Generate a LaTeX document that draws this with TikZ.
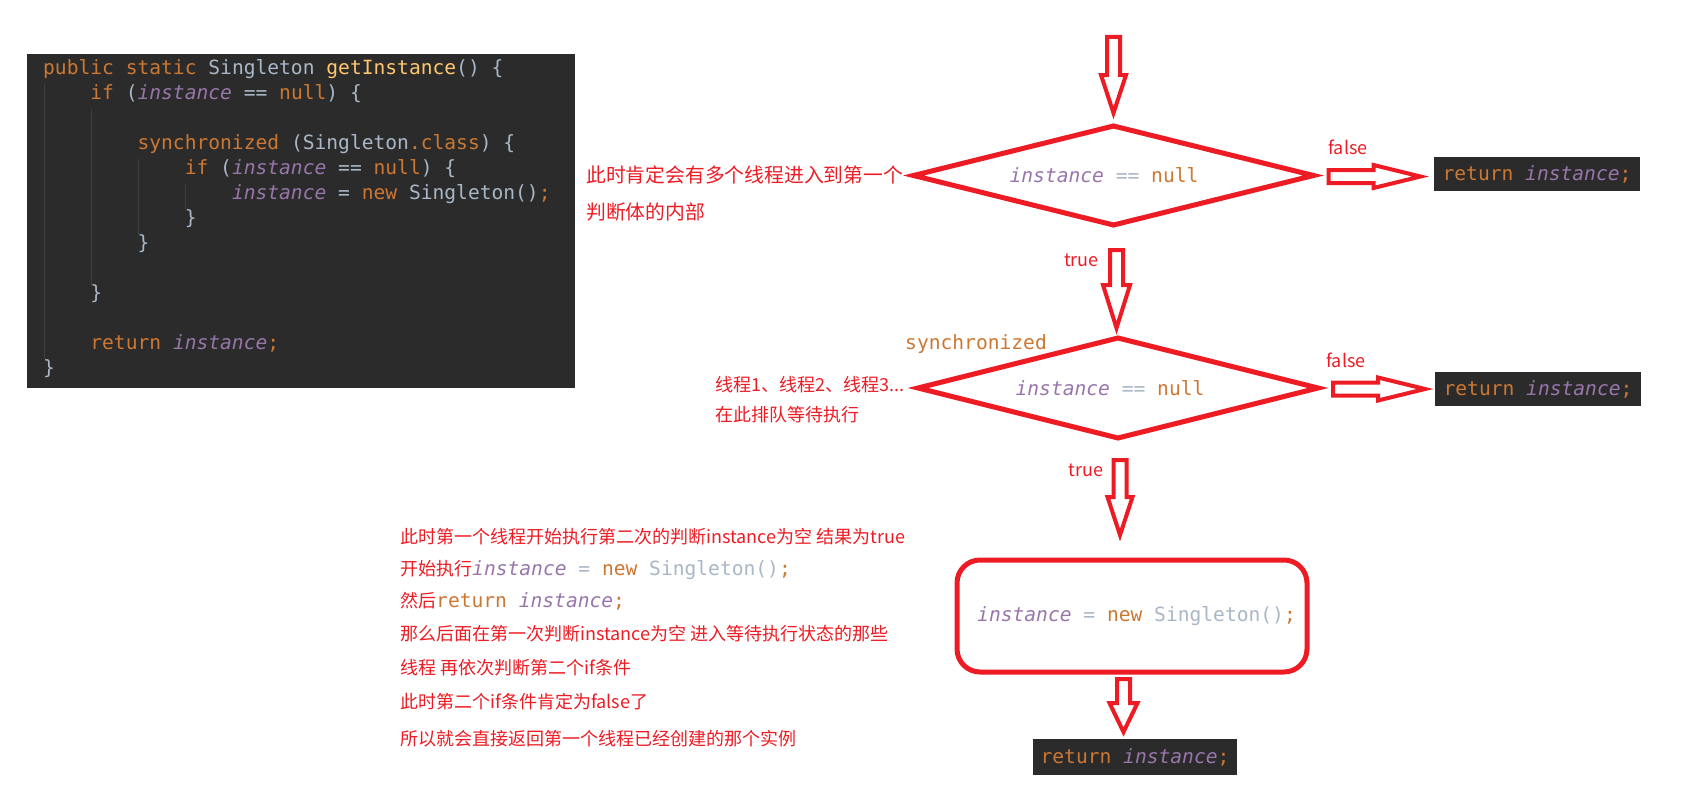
\documentclass[tikz,border=0pt]{standalone}
\usepackage{fontspec}
\usetikzlibrary{calc}
\newfontfamily\cjkf{Noto Sans CJK SC}
\newfontfamily\monof[ItalicFont={DejaVu Sans Mono Oblique}]{DejaVu Sans Mono}
\definecolor{pred}{RGB}{237,28,36}
\definecolor{cbg}{HTML}{2B2B2B}
\definecolor{ckw}{HTML}{CC7832}
\definecolor{cfld}{HTML}{9876AA}
\definecolor{cpl}{HTML}{A9B7C6}
\definecolor{cfn}{HTML}{FFC66D}
\definecolor{cguide}{HTML}{3E3E3E}
\newcommand\cdfont{\monof\fontsize{19.6}{24}\selectfont}
\newcommand\txtfont{\cjkf\fontsize{18}{22}\selectfont}
\newcommand\txtfontL{\cjkf\fontsize{19.8}{24}\selectfont}
\newcommand\Kw[1]{\textcolor{ckw}{#1}}
\newcommand\Fld[1]{\textcolor{cfld}{\itshape #1}}
\newcommand\Pl[1]{\textcolor{cpl}{#1}}
\newcommand\Fn[1]{\textcolor{cfn}{#1}}
\tikzset{
  harrow/.style={draw=pred, line width=4pt},
  redline/.style={draw=pred, line width=5pt},
  codeln/.style={anchor=mid west, inner sep=0pt, font=\cdfont},
  note/.style={anchor=mid west, inner sep=0pt, font=\txtfont, text=pred},
  notel/.style={anchor=mid west, inner sep=0pt, font=\txtfontL, text=pred},
  lbl/.style={inner sep=0pt, font=\txtfont, text=pred},
  decision/.style={rectangle, inner sep=0pt, outer sep=0pt, minimum width=400pt, minimum height=99pt, font=\cdfont},
  retbox/.style={fill=cbg, inner sep=0pt, outer sep=0pt, minimum width=206pt, minimum height=34pt, font=\cdfont},
  pics/darrow/.style n args={3}{code={\draw[harrow] (-6.5,0) -- (6.5,0) -- (6.5,#1-#2) -- (#3,#1-#2) -- (0,#1) -- (-#3,#1-#2) -- (-6.5,#1-#2) -- cycle;}},
  pics/rarrow/.style n args={2}{code={\draw[harrow] (0,-6.5) -- (#1-#2,-6.5) -- (#1-#2,-11.5) -- (#1,0) -- (#1-#2,11.5) -- (#1-#2,6.5) -- (0,6.5) -- cycle;}},
}
\begin{document}
\begin{tikzpicture}[x=1pt,y=-1pt]
\fill[white] (0,0) rectangle (1691,784);
\useasboundingbox (0,0) rectangle (1691,784);

% code block
\node[fill=cbg, inner sep=0pt, outer sep=0pt, minimum width=548pt, minimum height=334pt, anchor=north west] (code) at (27,54) {};
\draw[cguide, line width=1pt] (44,84) -- (44,359);
\draw[cguide, line width=1pt] (91,109) -- (91,285);
\draw[cguide, line width=1pt] (138,159) -- (138,235);
\draw[cguide, line width=1pt] (185,184) -- (185,210);
\node[codeln] (l1) at (43,72) {\Kw{public static} \Pl{Singleton} \Fn{getInstance}\Pl{() \{}};
\node[codeln] (l2) at (90.2,97) {\Kw{if} \Pl{(}\Fld{instance} \Pl{==} \Kw{null}\Pl{) \{}};
\node[codeln] (l4) at (137.4,147) {\Kw{synchronized} \Pl{(Singleton}\Kw{.class}\Pl{) \{}};
\node[codeln] (l5) at (184.6,172) {\Kw{if} \Pl{(}\Fld{instance} \Pl{==} \Kw{null}\Pl{) \{}};
\node[codeln] (l6) at (231.8,197) {\Fld{instance} \Pl{=} \Kw{new} \Pl{Singleton()}\Kw{;}};
\node[codeln] (l7) at (184.6,222) {\Pl{\}}};
\node[codeln] (l8) at (137.4,247) {\Pl{\}}};
\node[codeln] (l10) at (90.2,297) {\Pl{\}}};
\node[codeln] (l12) at (90.2,347) {\Kw{return} \Fld{instance}\Kw{;}};
\node[codeln] (l13) at (43,372) {\Pl{\}}};

% flow
\coordinate (start) at (1113.5,37);
\node[decision] (d1) at (1113.5,175.5) {\Fld{instance} \Pl{==} \Kw{null}\hspace*{19pt}};
\draw[redline] (d1.west) -- (d1.north) -- (d1.east) -- (d1.south) -- cycle;
\node[decision, minimum height=100pt] (d2) at (1118,388) {\Fld{instance} \Pl{==} \Kw{null}\hspace*{16pt}};
\draw[redline] (d2.west) -- (d2.north) -- (d2.east) -- (d2.south) -- cycle;
\node[redline, rounded corners=23pt, inner sep=0pt, outer sep=0pt, minimum width=350pt, minimum height=112pt, font=\cdfont] (r1) at (1132,616) {\hspace*{9pt}\Fld{instance} \Pl{=} \Kw{new} \Pl{Singleton()}\Kw{;}};
\node[retbox] (ret1) at (1537,174) {\Kw{return} \Fld{instance}\Kw{;}};
\node[retbox] (ret2) at (1538,389) {\Kw{return} \Fld{instance}\Kw{;}};
\node[retbox, minimum width=204pt, minimum height=36pt] (ret3) at (1135,757) {\Kw{return} \Fld{instance}\Kw{;}};

\pic at (start) {darrow={76}{38}{12.5}};
\pic at ($(d1.south)+(3,25)$) {darrow={78}{43}{13.5}};
\pic at ($(d2.south)+(2,22)$) {darrow={75}{38}{12.5}};
\pic at ($(r1.south)+(-8.5,7)$) {darrow={53}{29}{14}};
\pic at ($(d1.east)+(15,1)$) {rarrow={92}{47}};
\pic at ($(d2.east)+(15,1)$) {rarrow={92}{47}};

% labels
\node[lbl] (f1) at (1348,147) {false};
\node[lbl] (f2) at (1346,360) {false};
\node[lbl] (tr1) at (1081.5,260) {true};
\node[lbl] (tr2) at (1086,470) {true};
\node[codeln, text=ckw] (sync) at (905,347) {synchronized};

% notes
\node[notel] (n1a) at (586,180) {此时肯定会有多个线程进入到第一个};
\node[notel] (n1b) at (586,217) {判断体的内部};
\node[note] (n2a) at (715,389) {线程1、线程2、线程3...};
\node[note] (n2b) at (715,419) {在此排队等待执行};

\node[note] (b1) at (400,541.5) {此时第一个线程开始执行第二次的判断instance为空 结果为true};
\node[note] (b2) at (400,573.5) {开始执行{\cdfont\Fld{instance} \Pl{=} \Kw{new} \Pl{Singleton()}\Kw{;}}};
\node[note] (b3) at (400,605.5) {然后{\cdfont\Kw{return} \Fld{instance}\Kw{;}}};
\node[note] (b4) at (400,638.5) {那么后面在第一次判断instance为空 进入等待执行状态的那些};
\node[note] (b5) at (400,672) {线程 再依次判断第二个if条件};
\node[note] (b6) at (400,706.5) {此时第二个if条件肯定为false了};
\node[note] (b7) at (400,743) {所以就会直接返回第一个线程已经创建的那个实例};
\end{tikzpicture}
\end{document}
